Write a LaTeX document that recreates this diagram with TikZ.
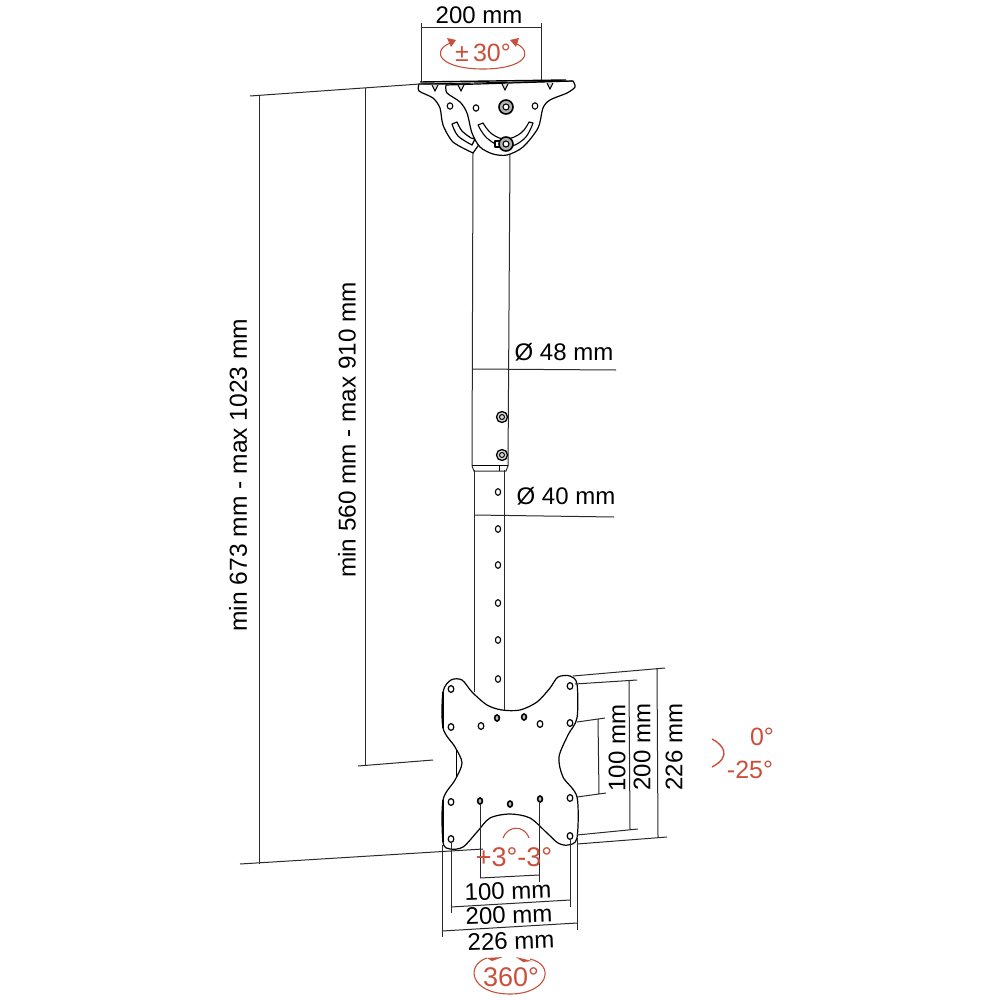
\documentclass[tikz,border=0pt]{standalone}
\usepackage{fontspec}
\setmainfont{Liberation Sans}
\definecolor{redmark}{HTML}{C9503C}
\definecolor{dimgrey}{HTML}{2A2A2A}
\tikzset{
  every node/.style={inner sep=0pt,outer sep=0pt},
  dimline/.style={draw=dimgrey,line width=1pt},
  part/.style={draw=black,line width=1.2pt,line join=round,fill=white},
  tubeline/.style={draw=dimgrey,line width=1pt},
  heavy/.style={draw=black,line width=1.8pt},
  hole/.style={draw=black,line width=1.4pt,fill=white},
  dimtext/.style={font=\fontsize{24}{24}\selectfont,text=black},
  longtext/.style={font=\fontsize{24.6}{25}\selectfont,text=black,rotate=90},
  redtext/.style={font=\fontsize{25}{25}\selectfont,text=redmark},
  redline/.style={draw=redmark,line width=1.1pt},
  redtip/.style={fill=redmark,draw=none},
}
\begin{document}
\begin{tikzpicture}[x=1pt,y=-1pt]
\useasboundingbox[fill=white] (0,0) rectangle (1000,1000);

% extension lines, long dimensions
\draw[dimline] (250,96) -- (420,84);
\draw[dimline] (365,88) -- (365,765);
\draw[dimline] (259,96) -- (259,864);
\draw[dimline] (358,766) -- (433,760);
\draw[dimline] (240,864) -- (483,849);

% top dimension
\draw[dimline] (421,23) -- (421,82) (541,23) -- (541,80) (421,28) -- (541,28);

% tubes
\draw[tubeline] (474,470) -- (474,692);
\draw[tubeline] (504,470) -- (504,710);
\draw[tubeline] (473,152) -- (472,466) -- (474,471) -- (506,471) -- (508,466) -- (510,152);
\draw[line width=1pt] (472,465) -- (508,465);
\draw[line width=.8pt] (499,465) -- (499,471);
\foreach \yy in {492,529,565,603,640,679}
  \draw[hole,line width=1.1pt] (498,\yy) ellipse (2.6 and 3.3);

% tube bolts
\foreach \yy in {417,455}{
  \draw[hole,line width=1.3pt,fill=black!15] (502,\yy) circle (5.5);
  \draw[line width=1pt] (502,\yy) circle (2.5);
}

% diameter leaders
\draw[dimline] (472,369) -- (616,370);
\draw[dimline] (474,515) -- (614,517);

% rear plate of the ceiling bracket
\draw[part] plot[smooth,tension=.45] coordinates {(419,84) (419,91) (433,98) (440,108) (443,125) (453,142) (473,153)} -- (478,146) -- (490,120) -- (470,84) -- cycle;
\draw[part] plot[smooth,tension=.6] coordinates {(452,124) (458,136) (472,145)} -- (475,139)
  -- plot[smooth,tension=.6] coordinates {(471,138) (462,131) (457,122)} -- cycle;
% front plate
\draw[part] plot[smooth,tension=.5] coordinates {(446,85) (447,93) (460,102) (467,113) (472,133) (480,147) (493,154) (507,155) (523,147) (538,128) (543,108) (550,100) (567,93) (575,87) (573,81)} -- cycle;
% top sheet
\draw[line width=1.4pt] (420,82) -- (566,80);
\draw[line width=.9pt] (421,84) -- (573,81);
\foreach \xx/\yy in {435/85,461/85,505/84,550/83}
  \draw[fill=black!15,line width=1pt] (\xx-3,\yy) -- (\xx,\yy+6) -- (\xx+3,\yy);
% slot
\draw[part,line width=1.1pt] plot[smooth,tension=.7] coordinates {(478,125) (488,139) (506,147) (524,139) (533,123)} -- (529,122)
  -- plot[smooth,tension=.7] coordinates {(529,122) (521,133) (506,139) (492,134) (483,123)} -- cycle;
% holes & bolts of bracket
\foreach \xx/\yy in {450/106,476/108,535/106}
  \draw[hole,line width=1.1pt] (\xx,\yy) ellipse (2.8 and 3.2);
\draw[part,line width=1.1pt] (495,141) rectangle (500,147);
\foreach \yy in {107,144}{
  \draw[hole,line width=1.6pt,fill=black!30] (506,\yy) circle (7);
  \draw[line width=1.1pt,fill=white] (506,\yy) circle (3);
}

% VESA plate
\draw[part] plot[smooth cycle,tension=.5] coordinates {
 (443,692) (451,680) (462,680) (472,692) (487,705) (502,710) (520,710) (537,702)
 (550,688) (558,677) (570,676) (577,684) (577,718) (568,735) (559,757) (563,777)
 (577,797) (577,838) (568,845) (558,843) (547,833) (530,818) (510,814) (490,818)
 (477,832) (463,847) (450,849) (443,842) (443,800) (455,780) (462,763) (455,747) (443,728)};
\draw[heavy] (443,692) -- (443,728) (443,800) -- (443,842);
\draw[line width=1pt] (456,750) -- (456,777);
\foreach \xx/\yy in {451/689,451/727,451/802,451/839,570/686,570/723,570/798,570/836,481/726,540/724}
  \draw[hole,line width=1.2pt] (\xx,\yy) ellipse (2.8 and 3.4);
\foreach \xx/\yy in {497/718,524/717,480/801,510/804,540/799}
  \draw[hole,line width=1.6pt,fill=black!25] (\xx,\yy) ellipse (2.4 and 3);

% right dimensions
\draw[dimline] (573,676) -- (665,668) (577,844) -- (667,837) (657,669) -- (658,837);
\draw[dimline] (575,684) -- (637,680) (577,835) -- (638,829) (629,681) -- (630,830);
\draw[dimline] (577,722) -- (605,718) (577,797) -- (606,793) (598,719) -- (599,794);

% bottom dimensions
\draw[dimline] (442,845) -- (442,937) (451,842) -- (451,913) (480,804) -- (480,878)
  (539,802) -- (539,882) (570,839) -- (570,907) (577,838) -- (577,930);
\draw[dimline] (480,878) -- (539,875) (451,907) -- (570,900) (442,931) -- (577,923);

% texts
\node[dimtext] (t200top) at (479,15) {200 mm};
\node[longtext] (tmaxa) at (238,475) {min 673 mm - max 1023 mm};
\node[longtext,font=\fontsize{24.3}{25}\selectfont] (tmaxb) at (347,430) {min 560 mm - max 910 mm};
\node[dimtext] (tdia48) at (564,352) {Ø 48 mm};
\node[dimtext] (tdia40) at (566,496) {Ø 40 mm};
\node[dimtext,rotate=90] (tr100) at (617,748) {100 mm};
\node[dimtext,rotate=90] (tr200) at (642,747) {200 mm};
\node[dimtext,rotate=90] (tr226) at (674,747) {226 mm};
\node[dimtext,rotate=2] (tb100) at (508,891) {100 mm};
\node[dimtext,rotate=2] (tb200) at (509,915) {200 mm};
\node[dimtext,rotate=2] (tb226) at (511,941) {226 mm};

% red marks
\node[redtext] (tpm) at (483,53) {±\,30°};
\draw[redline] (450,43) .. controls (430,52) and (441,69) .. (483,69) .. controls (525,69) and (535,52) .. (515,43);
\fill[redtip] (447,38) -- (456,40) -- (451,47) -- cycle;
\fill[redtip] (510,40) -- (519,38) -- (516,47) -- cycle;

\node[redtext] (tz) at (762,737) {0°};
\node[redtext] (tm) at (750,770) {-25°};
\draw[redline,line width=1.4pt] (712,739) .. controls (722,744) and (733,756) .. (712,767);

\node[redtext,font=\fontsize{27}{27}\selectfont] (tpmb) at (514,857) {+3°-3°};
\draw[redline] (503,838) .. controls (507,826) and (524,824) .. (529,838);

\node[redtext,font=\fontsize{27}{27}\selectfont] (t360) at (511,977) {360°};
\draw[redline] (487,958) .. controls (465,965) and (470,994) .. (510,994) .. controls (548,994) and (556,965) .. (530,959);
\fill[redtip] (487,958) -- (503,957) -- (492,961) -- cycle;
\fill[redtip] (516,957) -- (532,961) -- (523,962) -- cycle;
\end{tikzpicture}
\end{document}
